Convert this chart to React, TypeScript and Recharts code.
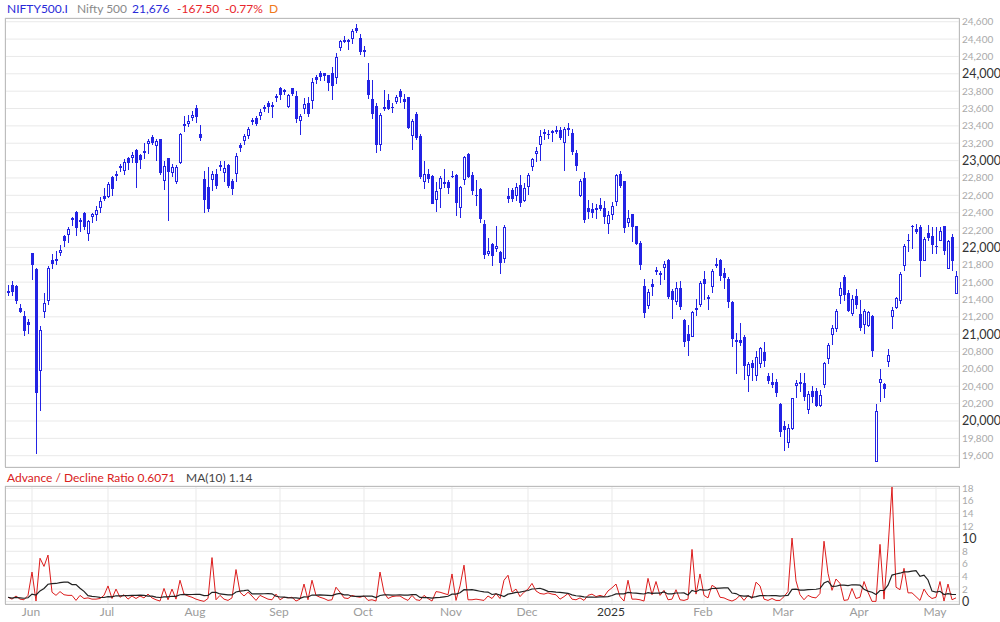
import React from 'react';
import { ComposedChart, Bar, Line, XAxis, YAxis, CartesianGrid } from 'recharts';

// Nifty 500 daily candles, 24 May 2024 .. 9 May 2025
const opens = [
  21490, 21572, 21553, 21300, 21207, 21138, 21932, 21756, 20571, 21261,
  21388, 21852, 21855, 21936, 22128, 22147, 22331, 22412, 22312, 22400,
  22159, 22354, 22377, 22458, 22596, 22577, 22815, 22822, 22941, 22884,
  23033, 23030, 23125, 23068, 23106, 23191, 23267, 23171, 23244, 22769,
  23026, 22861, 22757, 22972, 23425, 23421, 23494, 23609, 23302, 22784,
  22700, 22780, 22849, 22953, 22861, 22953, 22769, 22849, 23183, 23229,
  23283, 23471, 23494, 23513, 23613, 23659, 23636, 23731, 23839, 23812,
  23613, 23831, 23747, 23459, 23593, 23666, 23682, 23969, 24012, 24012,
  23981, 24012, 23954, 24299, 24387, 24380, 24403, 24533, 24414, 24253,
  23931, 23712, 23624, 23179, 23613, 23701, 23613, 23678, 23804, 23705,
  23728, 23287, 23532, 23279, 22757, 22849, 22826, 22550, 22677, 22730,
  22757, 22822, 22838, 22458, 22780, 23072, 22830, 22600, 22669, 22266,
  21925, 22044, 21986, 21952, 21871, 22588, 22657, 22596, 22723, 22538,
  22700, 22930, 23079, 23183, 23325, 23310, 23336, 23329, 23356, 23206,
  23379, 23313, 23083, 22596, 22796, 22450, 22439, 22454, 22485, 22450,
  22270, 22377, 22527, 22849, 22761, 22285, 22381, 22243, 22055, 21560,
  21330, 21576, 21737, 21706, 21767, 21860, 21495, 21376, 21537, 21165,
  21004, 20973, 21300, 21338, 21633, 21430, 21545, 21806, 21860, 21710,
  21641, 21368, 20931, 20931, 20969, 20513, 20667, 20513, 20651, 20793,
  20517, 20448, 20448, 20199, 19938, 19742, 19903, 20406, 20429, 20433,
  20122, 20348, 20344, 20172, 20417, 20720, 20996, 21065, 21438, 21656,
  21472, 21227, 21445, 21227, 21104, 21100, 21207, 19523, 20433, 20421,
  20682, 21200, 21303, 21384, 21790, 22090, 22243, 22216, 22232, 21844,
  22163, 22132, 22017, 22078, 22243, 21756, 22117, 21464,
];
const highs = [
  21572, 21618, 21564, 21353, 21265, 21180, 21935, 21760, 21100, 21472,
  21783, 21929, 21963, 22032, 22140, 22232, 22350, 22416, 22339, 22408,
  22312, 22397, 22477, 22577, 22684, 22750, 22818, 22876, 22964, 23018,
  23045, 23095, 23129, 23072, 23198, 23244, 23290, 23244, 23248, 23000,
  23033, 22960, 22945, 23313, 23509, 23528, 23567, 23643, 23405, 22876,
  22922, 22876, 22907, 22991, 22999, 22964, 22784, 23083, 23202, 23310,
  23390, 23486, 23513, 23593, 23639, 23689, 23674, 23770, 23847, 23820,
  23766, 23839, 23797, 23532, 23716, 23728, 23946, 23981, 24038, 24015,
  23992, 24084, 24242, 24395, 24433, 24403, 24518, 24579, 24460, 24326,
  24130, 23923, 23666, 23547, 23808, 23762, 23662, 23751, 23820, 23770,
  23731, 23474, 23563, 23306, 22991, 22899, 22838, 22757, 22818, 22899,
  22780, 22884, 22842, 22703, 23056, 23087, 22868, 22776, 22680, 22312,
  22105, 22055, 22243, 21955, 22262, 22680, 22680, 22742, 22830, 22742,
  22853, 23033, 23152, 23352, 23359, 23348, 23348, 23398, 23390, 23382,
  23428, 23359, 23125, 22784, 22865, 22542, 22515, 22496, 22569, 22538,
  22416, 22523, 22845, 22880, 22765, 22435, 22385, 22247, 22078, 21633,
  21526, 21641, 21779, 21729, 21848, 21871, 21518, 21599, 21618, 21180,
  21104, 21269, 21411, 21618, 21725, 21457, 21748, 21875, 21871, 21767,
  21656, 21384, 21016, 21127, 20989, 20682, 20701, 20801, 20854, 20908,
  20548, 20548, 20479, 20210, 20000, 19961, 20268, 20467, 20548, 20548,
  20348, 20402, 20375, 20356, 20682, 20897, 21104, 21296, 21599, 21679,
  21507, 21449, 21518, 21399, 21288, 21273, 21219, 20195, 20597, 20433,
  20828, 21311, 21426, 21714, 22040, 22159, 22262, 22274, 22262, 22117,
  22262, 22235, 22232, 22232, 22251, 22090, 22151, 21725,
];
const lows = [
  21441, 21441, 21349, 21246, 20981, 21000, 21622, 19623, 20118, 21192,
  21342, 21756, 21794, 21902, 22000, 22051, 22247, 22132, 22178, 22197,
  22074, 22285, 22305, 22400, 22538, 22565, 22592, 22765, 22872, 22830,
  22888, 22968, 22684, 22899, 23014, 23075, 23183, 22995, 22838, 22665,
  22305, 22807, 22730, 22960, 23329, 23386, 23451, 23432, 23225, 22397,
  22404, 22650, 22673, 22876, 22753, 22688, 22600, 22753, 23098, 23175,
  23252, 23409, 23402, 23467, 23563, 23547, 23490, 23674, 23701, 23758,
  23605, 23743, 23436, 23298, 23536, 23501, 23593, 23881, 23916, 23919,
  23801, 23697, 23877, 24265, 24357, 24276, 24345, 24472, 24215, 24192,
  23708, 23478, 23087, 23110, 23567, 23578, 23551, 23655, 23666, 23590,
  23363, 23122, 23233, 22784, 22673, 22742, 22496, 22408, 22454, 22688,
  22611, 22803, 22362, 22339, 22715, 22799, 22600, 22477, 22285, 21867,
  21898, 21787, 21948, 21695, 21821, 22512, 22519, 22531, 22462, 22523,
  22600, 22876, 22984, 22996, 23240, 23248, 23210, 23302, 23240, 22880,
  23283, 23064, 22880, 22581, 22281, 22331, 22339, 22331, 22423, 22270,
  22155, 22320, 22473, 22684, 22166, 22239, 22063, 22025, 21741, 21188,
  21296, 21441, 21679, 21572, 21629, 21403, 21180, 21342, 21280, 20851,
  20751, 20962, 21211, 21315, 21396, 21280, 21476, 21764, 21614, 21518,
  21303, 20851, 20540, 20862, 20475, 20333, 20459, 20463, 20613, 20617,
  20429, 20383, 20279, 19819, 19658, 19685, 19895, 20260, 20337, 20233,
  20076, 20202, 20156, 20164, 20375, 20659, 20874, 21027, 21353, 21388,
  21261, 21204, 21288, 21035, 21008, 21081, 20743, 19523, 20222, 20260,
  20624, 21065, 21288, 21349, 21725, 21948, 21986, 22155, 21660, 21840,
  22078, 21925, 21929, 22071, 21917, 21752, 21725, 21464,
];
const closes = [
  21500, 21487, 21384, 21257, 21042, 21108, 21802, 20325, 21054, 21365,
  21767, 21810, 21862, 21967, 22074, 22216, 22339, 22228, 22293, 22235,
  22301, 22381, 22435, 22538, 22561, 22734, 22677, 22849, 22911, 22987,
  22972, 23068, 22972, 23010, 23087, 23221, 23202, 23221, 22857, 22941,
  22868, 22930, 22922, 23302, 23398, 23451, 23528, 23501, 23263, 22550,
  22446, 22849, 22707, 22926, 22918, 22707, 22677, 23056, 23148, 23283,
  23367, 23444, 23425, 23563, 23593, 23616, 23620, 23739, 23758, 23785,
  23751, 23766, 23478, 23509, 23647, 23536, 23908, 23931, 23969, 23973,
  23893, 23862, 24196, 24380, 24395, 24387, 24495, 24495, 24253, 24280,
  23754, 23532, 23179, 23520, 23593, 23597, 23605, 23735, 23735, 23674,
  23371, 23451, 23260, 22807, 22849, 22788, 22500, 22654, 22803, 22757,
  22684, 22815, 22512, 22692, 23037, 22807, 22650, 22592, 22328, 21913,
  21963, 21902, 22013, 21821, 22232, 22558, 22558, 22700, 22512, 22688,
  22838, 23018, 23106, 23286, 23306, 23302, 23317, 23356, 23260, 23367,
  23352, 23102, 22941, 22761, 22320, 22412, 22397, 22431, 22443, 22351,
  22377, 22481, 22830, 22703, 22224, 22343, 22235, 22040, 21802, 21250,
  21484, 21545, 21714, 21683, 21814, 21430, 21399, 21537, 21319, 20912,
  20920, 21257, 21280, 21587, 21580, 21407, 21733, 21787, 21675, 21652,
  21376, 20950, 20912, 20904, 20636, 20655, 20613, 20732, 20843, 20693,
  20463, 20417, 20317, 19876, 19895, 19915, 20260, 20440, 20448, 20271,
  20306, 20271, 20176, 20294, 20667, 20870, 21077, 21273, 21537, 21449,
  21269, 21411, 21342, 21073, 21273, 21257, 20812, 20114, 20479, 20363,
  20755, 21284, 21418, 21695, 22013, 22074, 22235, 22178, 21844, 22101,
  22109, 22028, 22009, 22193, 21959, 22078, 21844, 21676,
];

// advance / decline ratio per session
const adRatio = [
  0.7, 0.4, 0.9, 0.4, 0.3, 1.0, 4.7, 0.1, 6.9, 5.6,
  7.4, 1.5, 1.0, 1.6, 1.1, 1.0, 1.0, 0.2, 1.0, 0.5,
  0.6, 0.4, 0.4, 0.5, 1.0, 2.5, 0.5, 2.0, 0.7, 1.1,
  0.4, 0.9, 0.5, 0.9, 0.6, 1.2, 0.6, 0.3, 0.1, 2.1,
  0.3, 2.0, 0.4, 3.4, 1.2, 0.9, 0.7, 0.4, 0.2, 0.05,
  0.5, 7.0, 0.3, 1.0, 0.4, 0.2, 0.6, 5.1, 1.5, 0.9,
  1.5, 0.9, 0.2, 1.0, 0.7, 0.4, 0.3, 1.2, 0.3, 0.7,
  0.6, 0.7, 0.1, 0.4, 2.8, 0.3, 3.4, 1.0, 0.7, 0.5,
  0.2, 0.3, 2.3, 1.5, 0.6, 0.5, 1.0, 0.8, 0.7, 0.9,
  0.2, 0.3, 0.1, 4.7, 1.5, 0.5, 0.8, 0.9, 0.9, 0.5,
  0.2, 1.0, 0.3, 0.2, 1.0, 0.5, 0.1, 1.6, 1.5, 1.3,
  1.1, 4.4, 0.2, 2.5, 5.8, 0.3, 0.3, 0.4, 0.3, 0.2,
  0.9, 0.5, 1.3, 0.5, 3.4, 4.2, 1.5, 2.0, 0.8, 1.5,
  2.0, 2.9, 1.7, 1.3, 1.2, 1.4, 1.2, 1.1, 0.4, 0.8,
  1.3, 0.4, 0.3, 0.6, 0.2, 1.0, 1.2, 0.8, 1.0, 0.8,
  1.7, 2.2, 2.8, 0.8, 0.1, 3.4, 0.4, 0.4, 0.3, 0.1,
  3.7, 1.1, 3.2, 1.0, 1.8, 0.3, 0.4, 1.9, 0.3, 0.2,
  0.4, 8.3, 1.2, 4.4, 1.0, 0.6, 2.6, 2.2, 0.7, 0.6,
  0.3, 0.1, 0.4, 1.0, 0.2, 1.0, 0.5, 3.1, 2.5, 0.4,
  0.2, 0.5, 0.2, 0.2, 0.8, 1.6, 10.1, 3.3, 1.1, 0.3,
  1.0, 0.7, 0.6, 1.3, 9.6, 4.5, 1.8, 3.6, 2.9, 0.2,
  0.3, 2.1, 0.5, 0.7, 3.2, 1.5, 0.05, 0.05, 9.1, 0.4,
  8.5, 18.2, 2.3, 1.9, 5.3, 1.4, 1.4, 0.8, 0.2, 2.0,
  1.0, 0.5, 0.7, 3.2, 0.1, 2.8, 0.3, 0.6071,
];

// first session of each month (index into the arrays above)
const monthStarts = [
  { index: 6, label: 'Jun' },
  { index: 25, label: 'Jul' },
  { index: 47, label: 'Aug' },
  { index: 68, label: 'Sep' },
  { index: 89, label: 'Oct' },
  { index: 111, label: 'Nov' },
  { index: 130, label: 'Dec' },
  { index: 151, label: '2025' },
  { index: 174, label: 'Feb' },
  { index: 194, label: 'Mar' },
  { index: 213, label: 'Apr' },
  { index: 232, label: 'May' },
];

const priceTicks = [
  19600, 19800, 20000, 20200, 20400, 20600, 20800, 21000, 21200, 21400, 21600, 21800, 22000,
  22200, 22400, 22600, 22800, 23000, 23200, 23400, 23600, 23800, 24000, 24200, 24400, 24600,
];
const ratioTicks = [0, 2, 4, 6, 8, 10, 12, 14, 16, 18];

const BLUE = '#2323e4';
const FONT = 'Lato, "Open Sans", sans-serif';

const candles = opens.map((o, i) => ({
  i,
  o,
  h: highs[i],
  l: lows[i],
  c: closes[i],
  range: [lows[i], highs[i]],
}));

const ratioRows = adRatio.map((v, i) => {
  const win = adRatio.slice(Math.max(0, i - 9), i + 1);
  return { i, ad: v, ma: win.reduce((a, b) => a + b, 0) / win.length };
});

const monthTicks = monthStarts.map((m) => m.index);

const Candle = (props: any) => {
  let { x, y, width, height, payload } = props;
  if (payload == null || y == null || isNaN(y)) return null;
  if (height < 0) {
    y = y + height;
    height = -height;
  }
  const { o, h, l, c } = payload;
  const span = h - l || 1;
  const py = (v: number) => y + ((h - v) / span) * height;
  const cx = Math.floor(x + width / 2);
  const top = Math.round(py(Math.max(o, c)));
  const bot = Math.round(py(Math.min(o, c)));
  const hi = Math.round(py(h));
  const lo = Math.round(py(l));
  const up = c > o;
  return (
    <g>
      <line x1={cx + 0.5} x2={cx + 0.5} y1={hi} y2={lo} stroke={BLUE} strokeWidth={1} />
      {up ? (
        <rect x={cx - 0.5} y={top + 0.5} width={2} height={Math.max(bot - top - 1, 1)} fill="#fff" stroke={BLUE} strokeWidth={1} />
      ) : (
        <rect x={cx - 1} y={top} width={3} height={Math.max(bot - top, 1)} fill={BLUE} />
      )}
    </g>
  );
};

const PriceTick = (props: any) => {
  const { x, y, payload } = props;
  const major = payload.value % 1000 === 0;
  return (
    <text x={x} y={y} dy={major ? 4.5 : 3.5} textAnchor="start" fontFamily={FONT}
      fontSize={major ? 12.5 : 10} fill={major ? '#333' : '#aaa'}>
      {payload.value.toLocaleString('en-US')}
    </text>
  );
};

const RatioTick = (props: any) => {
  const { x, y, payload } = props;
  const major = payload.value === 0 || payload.value === 10;
  return (
    <text x={x} y={y} dy={major ? 4.5 : 3.5} textAnchor="start" fontFamily={FONT}
      fontSize={major ? 12.5 : 10} fill={major ? '#333' : '#aaa'}>
      {payload.value}
    </text>
  );
};

const MonthTick = (props: any) => {
  const { x, y, payload } = props;
  const m = monthStarts.find((s) => s.index === payload.value);
  const label = m ? m.label : '';
  return (
    <text x={x - 1} y={y} dy={12} textAnchor="middle" fontFamily={FONT} fontSize={12}
      fill={label === '2025' ? '#333' : '#9c9c9c'}>
      {label}
    </text>
  );
};

const boxStyle = (left: number, top: number, w: number, h: number): React.CSSProperties => ({
  position: 'absolute',
  left,
  top,
  width: w,
  height: h,
  border: '1px solid #bdbdbd',
  boxSizing: 'border-box',
  pointerEvents: 'none',
});

const txt = (left: number, top: number, color: string): React.CSSProperties => ({
  position: 'absolute',
  left,
  top,
  color,
  fontFamily: FONT,
  fontSize: 12,
  lineHeight: '16px',
  whiteSpace: 'nowrap',
});

export default function App() {
  return (
    <div style={{ position: 'absolute', left: 0, top: 0, width: 1000, height: 622, background: '#fff', overflow: 'hidden' }}>
      <div style={{ position: 'absolute', left: 0, top: 0 }}>
        <ComposedChart width={1000} height={467} data={candles} margin={{ top: 18, right: 0, bottom: 0, left: 5 }} barCategoryGap={0}>
          <CartesianGrid stroke="#e9e9e9" />
          <XAxis dataKey="i" type="category" scale="band" ticks={monthTicks} interval={0} height={0}
            tick={false} axisLine={false} tickLine={false} padding={{ left: 1, right: 1 }} />
          <YAxis orientation="right" width={41} domain={[19470, 24643]} ticks={priceTicks} interval={0}
            allowDataOverflow axisLine={false} tickLine={false} tickSize={0} tickMargin={3} tick={<PriceTick />} />
          <Bar dataKey="range" shape={<Candle />} isAnimationActive={false} />
        </ComposedChart>
      </div>
      <div style={boxStyle(5, 18, 955, 450)} />

      {/* lower panel: svg starts 10px above the plot so the top tick label is not clipped */}
      <div style={{ position: 'absolute', left: 0, top: 476 }}>
        <ComposedChart width={1000} height={146} data={ratioRows} margin={{ top: 10, right: 0, bottom: 0, left: 5 }}>
          <CartesianGrid stroke="#e9e9e9" />
          <XAxis dataKey="i" type="category" scale="band" ticks={monthTicks} interval={0} height={18}
            axisLine={false} tickLine={false} tickSize={0} tickMargin={0} tick={<MonthTick />} padding={{ left: 1, right: 1 }} />
          <YAxis orientation="right" width={41} domain={[-0.37, 18.37]} ticks={ratioTicks} interval={0}
            allowDataOverflow axisLine={false} tickLine={false} tickSize={0} tickMargin={3} tick={<RatioTick />} />
          <Line dataKey="ad" stroke="#dc1c1c" strokeWidth={1} dot={false} isAnimationActive={false} />
          <Line dataKey="ma" stroke="#222" strokeWidth={1.2} dot={false} isAnimationActive={false} />
        </ComposedChart>
      </div>
      <div style={boxStyle(5, 486, 955, 119)} />

      <span style={txt(7, 1, '#2a2ad8')}>NIFTY500.I</span>
      <span style={txt(77, 1, '#8a8a8a')}>Nifty 500</span>
      <span style={txt(132, 1, '#2a2ad8')}>21,676</span>
      <span style={txt(177, 1, '#e8262c')}>-167.50</span>
      <span style={txt(225, 1, '#e8262c')}>-0.77%</span>
      <span style={txt(269, 1, '#f07a1a')}>D</span>

      <span style={txt(7, 470, '#d92020')}>Advance / Decline Ratio 0.6071</span>
      <span style={txt(186, 470, '#444')}>MA(10) 1.14</span>
    </div>
  );
}
